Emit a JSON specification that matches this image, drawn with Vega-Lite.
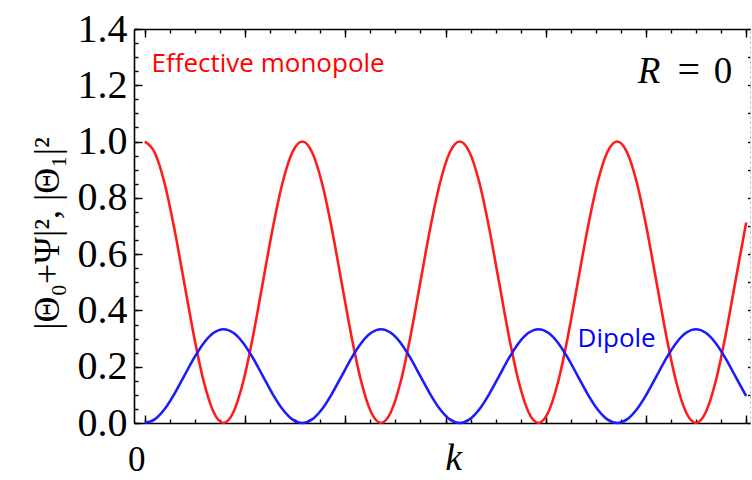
{
  "$schema": "https://vega.github.io/schema/vega-lite/v6.json",
  "width": 616,
  "height": 394,
  "autosize": {"type": "none"},
  "padding": {"left": 134, "top": 29, "right": 2, "bottom": 57},
  "background": "white",
  "config": {
    "view": {"stroke": null},
    "axis": {"grid": false, "domainColor": "black", "domainWidth": 1.6, "tickColor": "black", "tickWidth": 1.4, "labels": false, "title": null}
  },
  "resolve": {"axis": {"x": "independent", "y": "independent"}},
  "datasets": {
    "curves": [
      {"k": 0, "mono": 1, "dip": 0},
      {"k": 0.3927, "mono": 0.96194, "dip": 0.01269},
      {"k": 0.7854, "mono": 0.85355, "dip": 0.04882},
      {"k": 1.1781, "mono": 0.69134, "dip": 0.10289},
      {"k": 1.5708, "mono": 0.5, "dip": 0.16667},
      {"k": 1.9635, "mono": 0.30866, "dip": 0.23045},
      {"k": 2.3562, "mono": 0.14645, "dip": 0.28452},
      {"k": 2.7489, "mono": 0.03806, "dip": 0.32065},
      {"k": 3.1416, "mono": 0, "dip": 0.33333},
      {"k": 3.5343, "mono": 0.03806, "dip": 0.32065},
      {"k": 3.927, "mono": 0.14645, "dip": 0.28452},
      {"k": 4.3197, "mono": 0.30866, "dip": 0.23045},
      {"k": 4.7124, "mono": 0.5, "dip": 0.16667},
      {"k": 5.1051, "mono": 0.69134, "dip": 0.10289},
      {"k": 5.4978, "mono": 0.85355, "dip": 0.04882},
      {"k": 5.8905, "mono": 0.96194, "dip": 0.01269},
      {"k": 6.2832, "mono": 1, "dip": 0},
      {"k": 6.6759, "mono": 0.96194, "dip": 0.01269},
      {"k": 7.0686, "mono": 0.85355, "dip": 0.04882},
      {"k": 7.4613, "mono": 0.69134, "dip": 0.10289},
      {"k": 7.854, "mono": 0.5, "dip": 0.16667},
      {"k": 8.2467, "mono": 0.30866, "dip": 0.23045},
      {"k": 8.6394, "mono": 0.14645, "dip": 0.28452},
      {"k": 9.0321, "mono": 0.03806, "dip": 0.32065},
      {"k": 9.4248, "mono": 0, "dip": 0.33333},
      {"k": 9.8175, "mono": 0.03806, "dip": 0.32065},
      {"k": 10.2102, "mono": 0.14645, "dip": 0.28452},
      {"k": 10.6029, "mono": 0.30866, "dip": 0.23045},
      {"k": 10.9956, "mono": 0.5, "dip": 0.16667},
      {"k": 11.3883, "mono": 0.69134, "dip": 0.10289},
      {"k": 11.781, "mono": 0.85355, "dip": 0.04882},
      {"k": 12.1737, "mono": 0.96194, "dip": 0.01269},
      {"k": 12.5664, "mono": 1, "dip": 0},
      {"k": 12.9591, "mono": 0.96194, "dip": 0.01269},
      {"k": 13.3518, "mono": 0.85355, "dip": 0.04882},
      {"k": 13.7445, "mono": 0.69134, "dip": 0.10289},
      {"k": 14.1372, "mono": 0.5, "dip": 0.16667},
      {"k": 14.5299, "mono": 0.30866, "dip": 0.23045},
      {"k": 14.9226, "mono": 0.14645, "dip": 0.28452},
      {"k": 15.3153, "mono": 0.03806, "dip": 0.32065},
      {"k": 15.708, "mono": 0, "dip": 0.33333},
      {"k": 16.1007, "mono": 0.03806, "dip": 0.32065},
      {"k": 16.4934, "mono": 0.14645, "dip": 0.28452},
      {"k": 16.8861, "mono": 0.30866, "dip": 0.23045},
      {"k": 17.2788, "mono": 0.5, "dip": 0.16667},
      {"k": 17.6715, "mono": 0.69134, "dip": 0.10289},
      {"k": 18.0642, "mono": 0.85355, "dip": 0.04882},
      {"k": 18.4569, "mono": 0.96194, "dip": 0.01269},
      {"k": 18.8496, "mono": 1, "dip": 0},
      {"k": 19.2423, "mono": 0.96194, "dip": 0.01269},
      {"k": 19.635, "mono": 0.85355, "dip": 0.04882},
      {"k": 20.0277, "mono": 0.69134, "dip": 0.10289},
      {"k": 20.4204, "mono": 0.5, "dip": 0.16667},
      {"k": 20.8131, "mono": 0.30866, "dip": 0.23045},
      {"k": 21.2058, "mono": 0.14645, "dip": 0.28452},
      {"k": 21.5985, "mono": 0.03806, "dip": 0.32065},
      {"k": 21.9911, "mono": 0, "dip": 0.33333},
      {"k": 22.3838, "mono": 0.03806, "dip": 0.32065},
      {"k": 22.7765, "mono": 0.14645, "dip": 0.28452},
      {"k": 23.1692, "mono": 0.30866, "dip": 0.23045},
      {"k": 23.5619, "mono": 0.5, "dip": 0.16667},
      {"k": 23.9546, "mono": 0.69134, "dip": 0.10289},
      {"k": 24, "mono": 0.7124, "dip": 0.0959}
    ]
  },
  "layer": [
    {
      "data": {"name": "curves"},
      "mark": {"type": "line", "color": "#ff1c1c", "strokeWidth": 2.6, "interpolate": "monotone"},
      "encoding": {
        "x": {"field": "k", "type": "quantitative", "scale": {"domain": [-0.43, 24.15], "nice": false, "zero": false},
          "axis": {"orient": "bottom", "values": [0, 4, 8, 12, 16, 20, 24], "tickSize": -8}},
        "y": {"field": "mono", "type": "quantitative", "scale": {"domain": [0, 1.4], "nice": false, "zero": false},
          "axis": {"orient": "left", "values": [0, 0.2, 0.4, 0.6, 0.8, 1.0, 1.2, 1.4], "tickSize": -8, "labels": true, "format": ".1f",
            "labelFont": "Liberation Serif", "labelFontSize": 40, "labelColor": "black", "labelPadding": 15, "labelBaseline": "middle",
            "title": "|Θ₀+Ψ|², |Θ₁|²", "titleFont": "Liberation Serif", "titleFontSize": 36, "titleFontWeight": "normal", "titleColor": "black",
            "titleAngle": -90, "titleX": -76, "titleY": 204, "titleAlign": "center", "titleBaseline": "alphabetic"}}
      }
    },
    {
      "data": {"name": "curves"},
      "mark": {"type": "line", "color": "#1c1cff", "strokeWidth": 2.6, "interpolate": "monotone"},
      "encoding": {
        "x": {"field": "k", "type": "quantitative", "axis": null},
        "y": {"field": "dip", "type": "quantitative", "axis": null}
      }
    },
    {
      "data": {"values": [{}]},
      "mark": {"type": "text", "text": "Effective monopole", "color": "#ff0000", "font": "Open Sans", "fontSize": 26, "align": "left", "baseline": "alphabetic"},
      "encoding": {
        "x": {"datum": 0.27, "type": "quantitative", "axis": {"orient": "bottom", "values": [0,1,2,3,4,5,6,7,8,9,10,11,12,13,14,15,16,17,18,19,20,21,22,23,24], "tickSize": -4, "domain": false}},
        "y": {"datum": 1.248, "type": "quantitative", "axis": {"orient": "left", "values": [0,0.05,0.1,0.15,0.2,0.25,0.3,0.35,0.4,0.45,0.5,0.55,0.6,0.65,0.7,0.75,0.8,0.85,0.9,0.95,1,1.05,1.1,1.15,1.2,1.25,1.3,1.35,1.4], "tickSize": -4, "domain": false}}
      }
    },
    {
      "data": {"values": [{}]},
      "mark": {"type": "text", "text": "Dipole", "color": "#0000ff", "font": "Open Sans", "fontSize": 26, "align": "left", "baseline": "alphabetic"},
      "encoding": {
        "x": {"datum": 17.27, "type": "quantitative", "axis": {"orient": "top", "values": [0, 4, 8, 12, 16, 20, 24], "tickSize": -8}},
        "y": {"datum": 0.271, "type": "quantitative", "axis": {"orient": "right", "values": [0,0.1,0.2,0.3,0.4,0.5,0.6,0.7,0.8,0.9,1,1.1,1.2,1.3,1.4], "tickSize": -2.5, "domainColor": "#b0b0b0", "domainDash": [2, 3], "domainWidth": 1}}
      }
    },
    {
      "data": {"values": [{}]},
      "mark": {"type": "text", "text": "R", "color": "black", "font": "Liberation Serif", "fontStyle": "italic", "fontSize": 37, "align": "left", "baseline": "alphabetic"},
      "encoding": {
        "x": {"datum": 19.67, "type": "quantitative", "axis": {"orient": "top", "values": [0,1,2,3,4,5,6,7,8,9,10,11,12,13,14,15,16,17,18,19,20,21,22,23,24], "tickSize": -4, "domain": false}},
        "y": {"datum": 1.207, "type": "quantitative", "axis": null}
      }
    },
    {
      "data": {"values": [{}]},
      "mark": {"type": "text", "text": "=", "color": "black", "font": "Liberation Serif", "fontSize": 40, "align": "center", "baseline": "alphabetic"},
      "encoding": {
        "x": {"datum": 21.71, "type": "quantitative", "axis": null},
        "y": {"datum": 1.207, "type": "quantitative", "axis": null}
      }
    },
    {
      "data": {"values": [{}]},
      "mark": {"type": "text", "text": "0", "color": "black", "font": "Liberation Serif", "fontSize": 37, "align": "center", "baseline": "alphabetic"},
      "encoding": {
        "x": {"datum": 23.07, "type": "quantitative", "axis": null},
        "y": {"datum": 1.207, "type": "quantitative", "axis": null}
      }
    },
    {
      "data": {"values": [{}]},
      "mark": {"type": "text", "text": "0", "color": "black", "font": "Liberation Serif", "fontSize": 35, "align": "center", "baseline": "alphabetic"},
      "encoding": {
        "x": {"datum": -0.32, "type": "quantitative", "axis": null},
        "y": {"datum": -0.172, "type": "quantitative", "axis": null}
      }
    },
    {
      "data": {"values": [{}]},
      "mark": {"type": "text", "text": "k", "color": "black", "font": "Liberation Serif", "fontStyle": "italic", "fontSize": 38, "align": "center", "baseline": "alphabetic"},
      "encoding": {
        "x": {"datum": 12.33, "type": "quantitative", "axis": null},
        "y": {"datum": -0.167, "type": "quantitative", "axis": null}
      }
    }
  ]
}
